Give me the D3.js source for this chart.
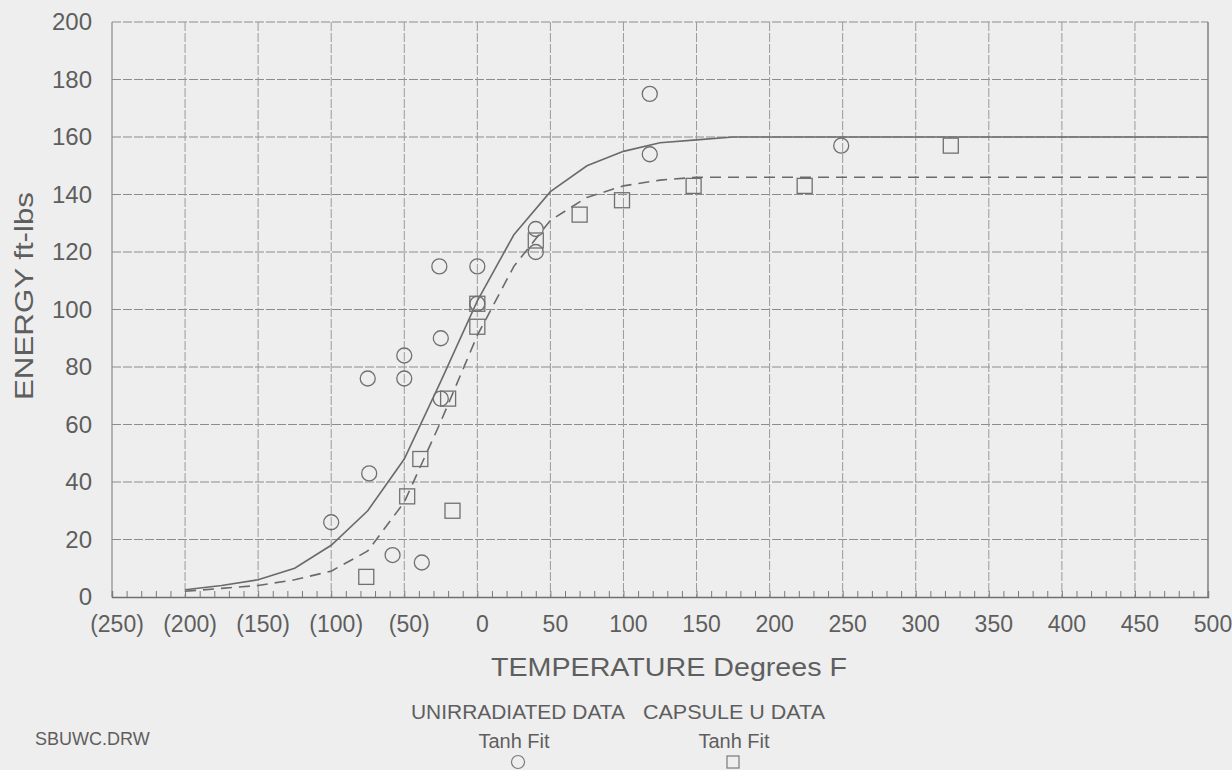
<!DOCTYPE html>
<html>
<head>
<meta charset="utf-8">
<script src="https://cdn.jsdelivr.net/npm/d3@7"></script>
<style>
  html, body { margin: 0; padding: 0; background: #eeeeee; }
  svg { display: block; }
  text { font-family: "Liberation Sans", Arial, Helvetica, sans-serif; fill: #5e5e5e; }
</style>
</head>
<body>
<svg id="chart" width="1232" height="770"></svg>
<script>
// ---- data ----
const xTicks = [-250, -200, -150, -100, -50, 0, 50, 100, 150, 200, 250, 300, 350, 400, 450, 500];
const xTickLabels = ["(250)", "(200)", "(150)", "(100)", "(50)", "0", "50", "100", "150", "200", "250", "300", "350", "400", "450", "500"];
const yTicks = [0, 20, 40, 60, 80, 100, 120, 140, 160, 180, 200];
const yTickLabels = ["0", "20", "40", "60", "80", "100", "120", "140", "160", "180", "200"];

// Unirradiated data (circles)
const unirrTemp   = [-100, -75, -74, -50, -50, -26, -25, -25, -58, -38, 0, 0, 40, 40, 118, 118, 249];
const unirrEnergy = [26, 76, 43, 84, 76, 115, 90, 69, 14.6, 12, 115, 102, 128, 120, 175, 154, 157];

// Capsule U data (squares)
const capsTemp   = [-76, -48, -39, -17, -20, 0, 0, 40, 70, 99, 148, 224, 324];
const capsEnergy = [7, 35, 48, 30, 69, 102, 94, 124, 133, 138, 143, 143, 157];

// Tanh fit curves (read at 25 F steps)
const fitTemp        = [-200, -175, -150, -125, -100, -75, -50, -25, 0, 25, 50, 75, 100, 125, 150, 175, 200, 500];
const unirrFitEnergy = [2.5, 4, 6, 10, 18, 30, 48, 75, 103, 126, 141, 150, 155, 158, 159, 160, 160, 160];
const capsFitEnergy  = [2, 3, 4, 6, 9, 16, 33, 61, 91, 115, 131, 139, 143, 145, 146, 146, 146, 146];

// ---- layout ----
const svg = d3.select("#chart");
const L = 112, R = 1208, T = 22, B = 597;
const x = d3.scaleLinear().domain([-250, 500]).range([L, R]);
const y = d3.scaleLinear().domain([0, 200]).range([B, T]);
const ink = "#6a6a6a";

// grid
const grid = svg.append("g");
grid.selectAll("line.h").data(yTicks.slice(1)).join("line")
  .attr("x1", L).attr("x2", R).attr("y1", d => y(d)).attr("y2", d => y(d))
  .attr("stroke", "#8c8c8c").attr("stroke-width", 1).attr("stroke-dasharray", "9,2");
grid.selectAll("line.v").data(xTicks.slice(1, -1)).join("line")
  .attr("y1", T).attr("y2", B).attr("x1", d => x(d)).attr("x2", d => x(d))
  .attr("stroke", "#9a9a9a").attr("stroke-width", 1).attr("stroke-dasharray", "9,2");

// border lines (left, right)
svg.append("line").attr("x1", L).attr("x2", L).attr("y1", T).attr("y2", B).attr("stroke", "#8a8a8a").attr("stroke-width", 1.2);
svg.append("line").attr("x1", R).attr("x2", R).attr("y1", T).attr("y2", B).attr("stroke", "#777").attr("stroke-width", 1.4);

// bottom axis with minor ticks
const xAxis = d3.axisBottom(x).tickValues(d3.range(-250, 501, 10)).tickSize(-6).tickFormat("");
const gx = svg.append("g").attr("transform", `translate(0,${B})`).call(xAxis);
gx.select(".domain").attr("stroke", "#6f6f6f").attr("stroke-width", 1.4);
gx.selectAll(".tick line").attr("stroke", "#7a7a7a");

// x tick labels
svg.append("g").selectAll("text").data(xTicks).join("text")
  .attr("x", d => x(d) + 5).attr("y", 632)
  .attr("text-anchor", "middle").attr("font-size", 23)
  .text((d, i) => xTickLabels[i]);

// y tick labels
const yAxis = d3.axisLeft(y).tickValues(yTicks).tickSize(0).tickPadding(20).tickFormat((d, i) => yTickLabels[i]);
const gy = svg.append("g").attr("transform", `translate(${L},0)`).call(yAxis);
gy.select(".domain").remove();
gy.selectAll("text").attr("font-size", 24).attr("fill", "#5e5e5e").attr("font-family", "Liberation Sans, Arial, sans-serif");

// axis titles
svg.append("text").attr("transform", "translate(33,296) rotate(-90)")
  .attr("text-anchor", "middle").attr("font-size", 26)
  .attr("textLength", 208).attr("lengthAdjust", "spacingAndGlyphs")
  .text("ENERGY ft-lbs");
svg.append("text").attr("x", 669).attr("y", 676)
  .attr("text-anchor", "middle").attr("font-size", 25)
  .attr("textLength", 356).attr("lengthAdjust", "spacingAndGlyphs")
  .text("TEMPERATURE Degrees F");

// fit lines
const line = d3.line().x(d => x(d[0])).y(d => y(d[1]));
svg.append("path").datum(fitTemp.map((t, i) => [t, unirrFitEnergy[i]]))
  .attr("d", line).attr("fill", "none").attr("stroke", ink).attr("stroke-width", 1.6);
svg.append("path").datum(fitTemp.map((t, i) => [t, capsFitEnergy[i]]))
  .attr("d", line).attr("fill", "none").attr("stroke", ink).attr("stroke-width", 1.6)
  .attr("stroke-dasharray", "11,7");

// markers
svg.append("g").selectAll("circle").data(unirrTemp.map((t, i) => [t, unirrEnergy[i]])).join("circle")
  .attr("cx", d => x(d[0])).attr("cy", d => y(d[1])).attr("r", 7.5)
  .attr("fill", "none").attr("stroke", "#707070").attr("stroke-width", 1.3);
const s = 15;
svg.append("g").selectAll("rect").data(capsTemp.map((t, i) => [t, capsEnergy[i]])).join("rect")
  .attr("x", d => x(d[0]) - s / 2).attr("y", d => y(d[1]) - s / 2).attr("width", s).attr("height", s)
  .attr("fill", "none").attr("stroke", "#707070").attr("stroke-width", 1.3);

// legend / footer
svg.append("text").attr("x", 35).attr("y", 745).attr("font-size", 18).text("SBUWC.DRW");
svg.append("text").attr("x", 411).attr("y", 719).attr("font-size", 21)
  .attr("textLength", 214).attr("lengthAdjust", "spacingAndGlyphs").text("UNIRRADIATED DATA");
svg.append("text").attr("x", 643).attr("y", 719).attr("font-size", 21)
  .attr("textLength", 182).attr("lengthAdjust", "spacingAndGlyphs").text("CAPSULE U DATA");
svg.append("text").attr("x", 514).attr("y", 748).attr("font-size", 20).attr("text-anchor", "middle").text("Tanh Fit");
svg.append("text").attr("x", 734).attr("y", 748).attr("font-size", 20).attr("text-anchor", "middle").text("Tanh Fit");
svg.append("circle").attr("cx", 518).attr("cy", 762).attr("r", 6.5)
  .attr("fill", "none").attr("stroke", "#7a7a7a").attr("stroke-width", 1.2);
svg.append("rect").attr("x", 733 - 6).attr("y", 762 - 6).attr("width", 12).attr("height", 12)
  .attr("fill", "none").attr("stroke", "#7a7a7a").attr("stroke-width", 1.2);
</script>
</body>
</html>
